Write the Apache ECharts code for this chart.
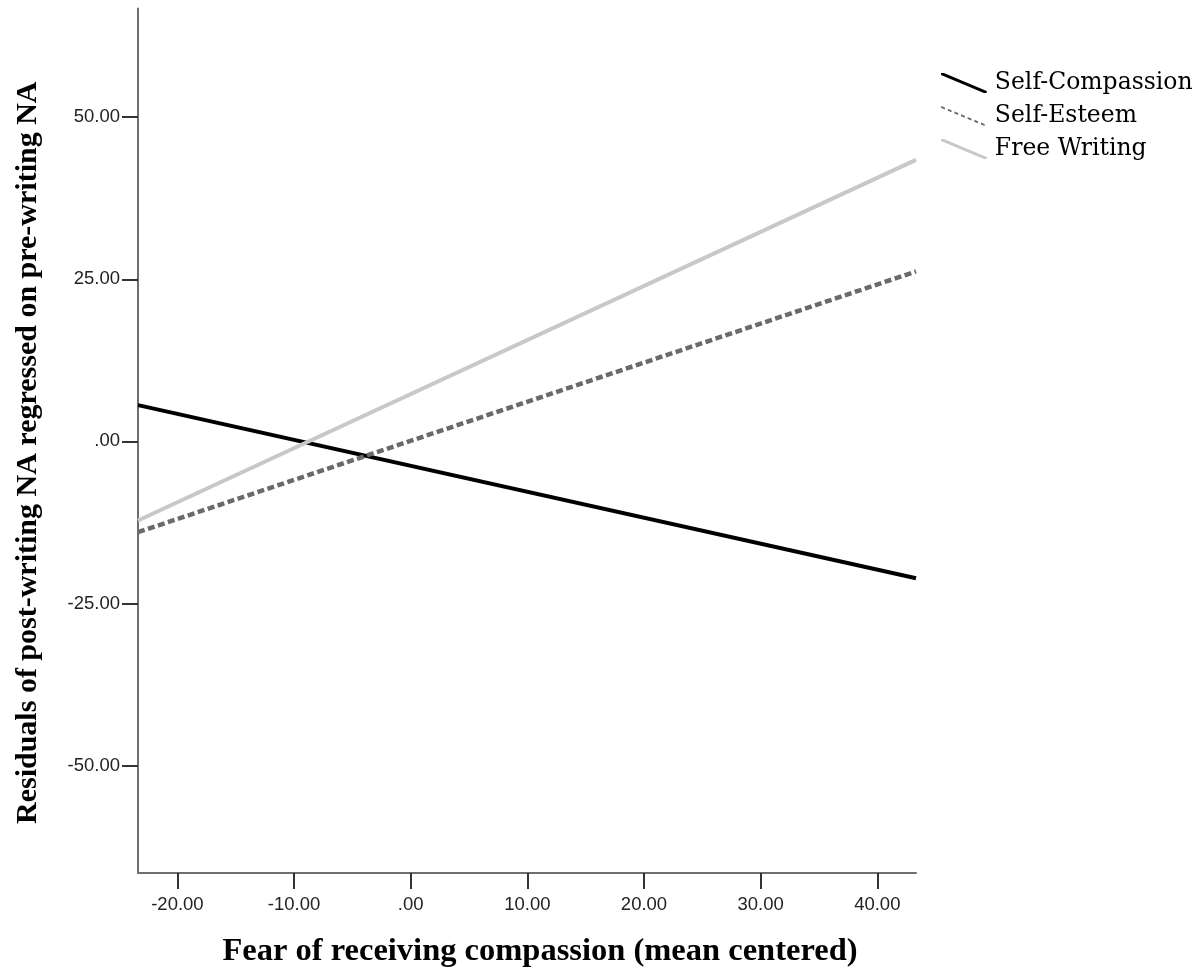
<!DOCTYPE html>
<html>
<head>
<meta charset="utf-8">
<script src="https://cdn.jsdelivr.net/npm/echarts@6/dist/echarts.min.js"></script>
<style>
html,body{margin:0;padding:0;background:#fff;}
#chart{width:1203px;height:973px;}
</style>
</head>
<body>
<div id="chart"></div>
<script>
// Data
var xEnds = [-23.38, 43.32];
var selfCompassion = [5.6, -21.1];
var selfEsteem = [-14.0, 26.2];
var freeWriting = [-12.2, 43.4];
var seriesNames = ['Self-Compassion', 'Self-Esteem', 'Free Writing'];
var xTicks = [-20, -10, 0, 10, 20, 30, 40];
var yTicks = [-50, -25, 0, 25, 50];
var xTitle = 'Fear of receiving compassion (mean centered)';
var yTitle = 'Residuals of post-writing NA regressed on pre-writing NA';

function pairs(ys) { return xEnds.map(function (x, i) { return [x, ys[i]]; }); }
function fmt(v) { if (v === 0) return '.00'; return v.toFixed(2); }

var solidIcon = 'path://M0,0 L3,0 L48,19 L48,21 L45,21 L0,2 Z';
var dotIcon = (function () {
  var p = 'path://';
  for (var i = 0; i < 7; i++) {
    var x0 = i * 7, x1 = x0 + 4;
    var y0 = x0 * 20 / 48, y1 = x1 * 20 / 48;
    p += 'M' + x0 + ',' + y0 + ' L' + x1 + ',' + y1 + ' L' + x1 + ',' + (y1 + 2) + ' L' + x0 + ',' + (y0 + 2) + ' Z ';
  }
  p += 'M47.9,19 L48,19 L48,21 L47.9,21 Z';
  return p;
})();

var colors = ['#000000', '#6a6a6a', '#c8c8c8'];
var tickFont = 'Liberation Sans';

var chart = echarts.init(document.getElementById('chart'), null, { renderer: 'canvas' });
chart.setOption({
  animation: false,
  backgroundColor: '#ffffff',
  grid: { left: 138, right: 287, top: 8.5, bottom: 100, containLabel: false },
  legend: {
    orient: 'vertical',
    left: 936,
    top: 66,
    itemWidth: 48,
    itemHeight: 20,
    itemGap: 9,
    textStyle: { fontFamily: 'DejaVu Serif', fontSize: 23.5, color: '#000', padding: [0, 0, 0, 2] },
    data: [
      { name: seriesNames[0], icon: solidIcon, itemStyle: { color: colors[0], borderWidth: 0 } },
      { name: seriesNames[1], icon: dotIcon, itemStyle: { color: colors[1], borderWidth: 0 } },
      { name: seriesNames[2], icon: solidIcon, itemStyle: { color: colors[2], borderWidth: 0 } }
    ]
  },
  xAxis: {
    type: 'value',
    min: xEnds[0],
    max: xEnds[1],
    name: xTitle,
    nameLocation: 'middle',
    nameGap: 62,
    nameTextStyle: { fontFamily: 'Liberation Serif', fontWeight: 'bold', fontSize: 32.5, color: '#000', padding: [0, 0, 0, 26] },
    splitLine: { show: false },
    axisLine: { show: true, onZero: false, lineStyle: { color: '#6e6e6e', width: 2 } },
    axisTick: { show: true, length: 16, customValues: xTicks, lineStyle: { color: '#333', width: 2 } },
    axisLabel: { customValues: xTicks, formatter: fmt, margin: 22, fontFamily: tickFont, fontSize: 18.5, color: '#222' }
  },
  yAxis: {
    type: 'value',
    min: -66.55,
    max: 66.75,
    name: yTitle,
    nameLocation: 'middle',
    nameGap: 95,
    nameRotate: 90,
    nameTextStyle: { fontFamily: 'Liberation Serif', fontWeight: 'bold', fontSize: 30, color: '#000', padding: [0, 24, 0, 0] },
    splitLine: { show: false },
    axisLine: { show: true, onZero: false, lineStyle: { color: '#6e6e6e', width: 2 } },
    axisTick: { show: true, length: 16, customValues: yTicks, lineStyle: { color: '#333', width: 2 } },
    axisLabel: { customValues: yTicks, formatter: fmt, margin: 18, fontFamily: tickFont, fontSize: 18.5, color: '#222' }
  },
  series: [
    { name: seriesNames[0], type: 'line', data: pairs(selfCompassion), showSymbol: false, color: colors[0],
      lineStyle: { color: colors[0], width: 4 } },
    { name: seriesNames[1], type: 'line', data: pairs(selfEsteem), showSymbol: false, color: colors[1],
      lineStyle: { color: colors[1], width: 4.5, type: [7, 3.5] } },
    { name: seriesNames[2], type: 'line', data: pairs(freeWriting), showSymbol: false, color: colors[2],
      lineStyle: { color: colors[2], width: 4 } }
  ]
});
</script>
</body>
</html>
